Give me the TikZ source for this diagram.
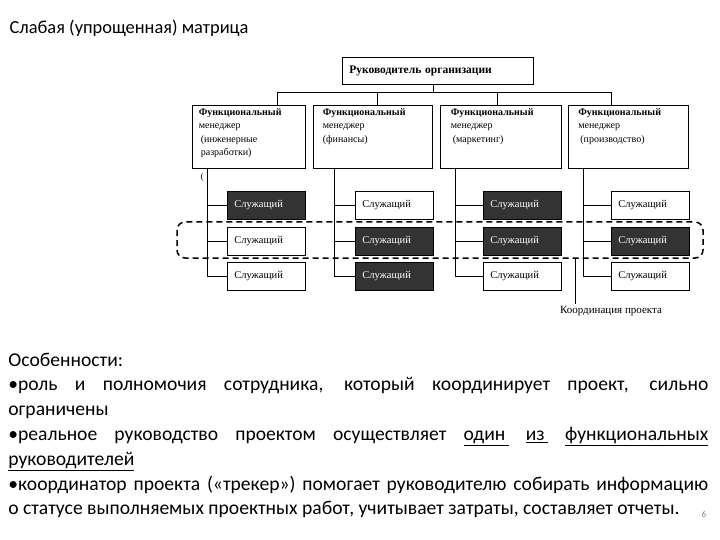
\documentclass[tikz,border=0pt]{standalone}
\usepackage{fontspec}
\setmainfont{Liberation Serif}
\newfontfamily\slidefont{Carlito}
\usetikzlibrary{positioning}

\newcommand{\mgrtext}[1]{\parbox[c][57pt][t]{100pt}{\raggedright #1}}

\tikzset{
  boss/.style={draw, anchor=north west, text width=177pt, inner xsep=7pt, inner ysep=0pt,
    minimum height=27pt, align=left, font=\bfseries\fontsize{11.5}{13}\selectfont},
  mgr/.style={draw, anchor=north west, inner sep=3pt, font=\fontsize{10}{13.5}\selectfont},
  emp/.style={draw, anchor=north west, text width=64pt, inner xsep=7pt, inner ysep=0pt,
    minimum height=28pt, align=left, font=\fontsize{10.5}{12}\selectfont},
  empdark/.style={emp, fill=black!80, text=white},
  projline/.style={dashed, dash pattern=on 6pt off 4pt, line width=1.5pt, rounded corners=8pt}
}

\begin{document}
\begin{tikzpicture}[x=1pt, y=-1pt, line width=0.7pt]
  \useasboundingbox (0,0) rectangle (720,540);

  \node[anchor=west, font=\slidefont\fontsize{18.4}{20}\selectfont] (title) at (6,28) {Слабая (упрощенная) матрица};

  % head of the organisation
  \node[boss] (boss) at (342,57) {Руководитель организации};

  % functional managers
  \node[mgr, minimum width=113pt] (m1) at (192,105) {\mgrtext{\textbf{Функциональный}\\менеджер\\\hspace{2pt}(инженерные\\\hspace{2pt}разработки)}};
  \node[mgr, minimum width=119pt] (m2) at (313,105) {\mgrtext{\textbf{Функциональный}\\менеджер\\(финансы)}};
  \node[mgr, minimum width=121pt] (m3) at (440,105) {\mgrtext{\textbf{Функциональный}\\менеджер\\\hspace{2pt}(маркетинг)}};
  \node[mgr, minimum width=120pt] (m4) at (568,105) {\mgrtext{\textbf{Функциональный}\\менеджер\\\hspace{2pt}(производство)}};

  \coordinate (drop) at (433,92);
  \coordinate (bar1) at (277,92);
  \coordinate (bar2) at (377,92);
  \coordinate (bar3) at (497,92);
  \coordinate (bar4) at (611,92);
  \draw (drop |- boss.south) -- (drop);
  \draw (bar1) -- (bar4);
  \foreach \i in {1,...,4}
    \draw (bar\i) -- (bar\i |- m\i.north);

  % employees
  \foreach \c/\r/\ex/\ey/\kind in {1/1/227/191/empdark, 2/1/355/191/emp, 3/1/483/191/empdark, 4/1/611/191/emp,
      1/2/227/227/emp, 2/2/355/227/empdark, 3/2/483/227/empdark, 4/2/611/227/empdark,
      1/3/227/262/emp, 2/3/355/262/empdark, 3/3/483/262/emp, 4/3/611/262/emp}
    \node[\kind] (e\c\r) at (\ex,\ey) {Служащий};

  \coordinate (v1) at (207,0);
  \coordinate (v2) at (334,0);
  \coordinate (v3) at (455,0);
  \coordinate (v4) at (583,0);
  \foreach \c in {1,...,4} {
    \draw (v\c |- m\c.south) |- (e\c3.west);
    \draw (e\c1.west) -- (e\c1.west -| v\c);
    \draw (e\c2.west) -- (e\c2.west -| v\c);
  }
  \node[font=\fontsize{9}{9}\selectfont, inner sep=0pt] (paren) at (202,177) {(};

  % project coordination
  \draw[projline] (177,222) rectangle (703,258);
  \coordinate (pc) at (575,258);
  \node[anchor=north, font=\fontsize{11}{12}\selectfont, inner sep=2pt] (coord) at (611,304) {Координация проекта};
  \draw (pc) -- (pc |- coord.north);

  % features
  \node[anchor=base west, text width=700pt, align=justify, inner sep=0pt,
    font=\slidefont\fontsize{19.6}{24.8}\selectfont] (notes) at (8,366)
    {\parindent=0pt Особенности:\par
     •роль и полномочия сотрудника, который координирует проект, сильно\linebreak ограничены\par
     •реальное руководство проектом осуществляет \underline{один\,} \underline{из\,} \underline{функциональных}\linebreak \underline{руководителей}\par
     •координатор проекта («трекер») помогает руководителю собирать информацию\linebreak о статусе выполняемых проектных работ, учитывает затраты, составляет отчеты.};

  \node[font=\slidefont\fontsize{9}{9}\selectfont, text=black!50] (page) at (704,514) {6};
\end{tikzpicture}
\end{document}
